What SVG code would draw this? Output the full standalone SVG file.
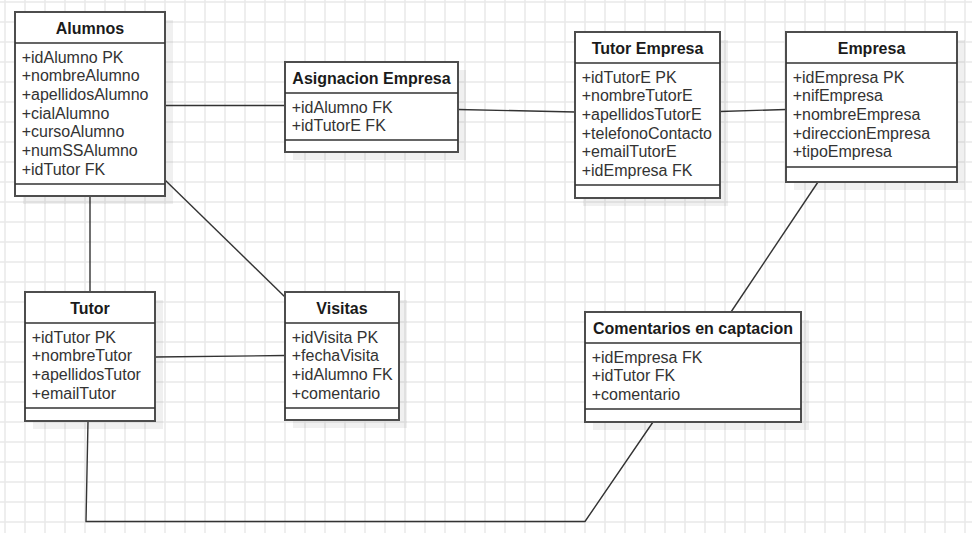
<svg xmlns="http://www.w3.org/2000/svg" width="972" height="533" viewBox="0 0 972 533">
<style>
.box{fill:#ffffff;stroke:#4d4d4d;stroke-width:2}
.shadow{fill:#000000;fill-opacity:0.06;stroke:none}
.div{stroke:#333333;stroke-width:1.5;fill:none}
.title{font-family:"Liberation Sans",Arial,sans-serif;font-size:16px;font-weight:bold;fill:#1a1a1a;text-anchor:middle}
.attr{font-family:"Liberation Sans",Arial,sans-serif;font-size:16px;fill:#333333}
.conn{stroke:#333333;stroke-width:1.4;fill:none}
</style>
<defs>
<pattern id="grid" patternUnits="userSpaceOnUse" x="-5" y="-8" width="20" height="20">
<path d="M0 10H20M10 0V20" stroke="#e9e9e9" stroke-width="1.5" fill="none"/>
</pattern>
</defs>
<rect x="0" y="0" width="972" height="533" fill="#ffffff"/>
<rect x="0" y="0" width="972" height="533" fill="url(#grid)"/>

<g id="connectors">
<path class="conn" d="M165 105.5H285"/>
<path class="conn" d="M458 109.5L575 112"/>
<path class="conn" d="M720 111.5L786 109.5"/>
<path class="conn" d="M818 182L731 312"/>
<path class="conn" d="M90 196V292"/>
<path class="conn" d="M165 180L285 297"/>
<path class="conn" d="M155 357L285 355.5"/>
<path class="conn" d="M88 421L86 521.5H585L653 422"/>
</g>

<g id="alumnos">
<rect class="shadow" x="23" y="20" width="150" height="184"/>
<rect class="box" x="15" y="12" width="150" height="184"/>
<path class="div" d="M15 43H165M15 184H165"/>
<text class="title" x="90" y="33.5">Alumnos</text>
<text class="attr" x="21.7" y="62.6">+idAlumno PK</text>
<text class="attr" x="21.7" y="81.3">+nombreAlumno</text>
<text class="attr" x="21.7" y="99.9">+apellidosAlumno</text>
<text class="attr" x="21.7" y="118.6">+cialAlumno</text>
<text class="attr" x="21.7" y="137.3">+cursoAlumno</text>
<text class="attr" x="21.7" y="155.9">+numSSAlumno</text>
<text class="attr" x="21.7" y="174.6">+idTutor FK</text>
</g>

<g id="asignacion-empresa">
<rect class="shadow" x="293" y="70" width="173" height="90"/>
<rect class="box" x="285" y="62" width="173" height="90"/>
<path class="div" d="M285 93H458M285 140H458"/>
<text class="title" x="371.5" y="83.5">Asignacion Empresa</text>
<text class="attr" x="291.7" y="112.6">+idAlumno FK</text>
<text class="attr" x="291.7" y="131.3">+idTutorE FK</text>
</g>

<g id="tutor-empresa">
<rect class="shadow" x="583" y="40" width="145" height="166"/>
<rect class="box" x="575" y="32" width="145" height="166"/>
<path class="div" d="M575 63H720M575 185H720"/>
<text class="title" x="647.5" y="53.5">Tutor Empresa</text>
<text class="attr" x="581.7" y="82.6">+idTutorE PK</text>
<text class="attr" x="581.7" y="101.3">+nombreTutorE</text>
<text class="attr" x="581.7" y="119.9">+apellidosTutorE</text>
<text class="attr" x="581.7" y="138.6">+telefonoContacto</text>
<text class="attr" x="581.7" y="157.3">+emailTutorE</text>
<text class="attr" x="581.7" y="175.9">+idEmpresa FK</text>
</g>

<g id="empresa">
<rect class="shadow" x="794" y="40" width="171" height="150"/>
<rect class="box" x="786" y="32" width="171" height="150"/>
<path class="div" d="M786 63H957M786 167H957"/>
<text class="title" x="871.5" y="53.5">Empresa</text>
<text class="attr" x="792.7" y="82.6">+idEmpresa PK</text>
<text class="attr" x="792.7" y="101.3">+nifEmpresa</text>
<text class="attr" x="792.7" y="119.9">+nombreEmpresa</text>
<text class="attr" x="792.7" y="138.6">+direccionEmpresa</text>
<text class="attr" x="792.7" y="157.3">+tipoEmpresa</text>
</g>

<g id="tutor">
<rect class="shadow" x="33" y="300" width="130" height="129"/>
<rect class="box" x="25" y="292" width="130" height="129"/>
<path class="div" d="M25 323H155M25 408H155"/>
<text class="title" x="90" y="313.5">Tutor</text>
<text class="attr" x="31.7" y="342.6">+idTutor PK</text>
<text class="attr" x="31.7" y="361.3">+nombreTutor</text>
<text class="attr" x="31.7" y="379.9">+apellidosTutor</text>
<text class="attr" x="31.7" y="398.6">+emailTutor</text>
</g>

<g id="visitas">
<rect class="shadow" x="293" y="300" width="114" height="128"/>
<rect class="box" x="285" y="292" width="114" height="128"/>
<path class="div" d="M285 323H399M285 408H399"/>
<text class="title" x="342" y="313.5">Visitas</text>
<text class="attr" x="291.7" y="342.6">+idVisita PK</text>
<text class="attr" x="291.7" y="361.3">+fechaVisita</text>
<text class="attr" x="291.7" y="379.9">+idAlumno FK</text>
<text class="attr" x="291.7" y="398.6">+comentario</text>
</g>

<g id="comentarios-en-captacion">
<rect class="shadow" x="593" y="320" width="216" height="110"/>
<rect class="box" x="585" y="312" width="216" height="110"/>
<path class="div" d="M585 343H801M585 409H801"/>
<text class="title" x="693" y="333.5">Comentarios en captacion</text>
<text class="attr" x="591.7" y="362.6">+idEmpresa FK</text>
<text class="attr" x="591.7" y="381.3">+idTutor FK</text>
<text class="attr" x="591.7" y="399.9">+comentario</text>
</g>
</svg>
